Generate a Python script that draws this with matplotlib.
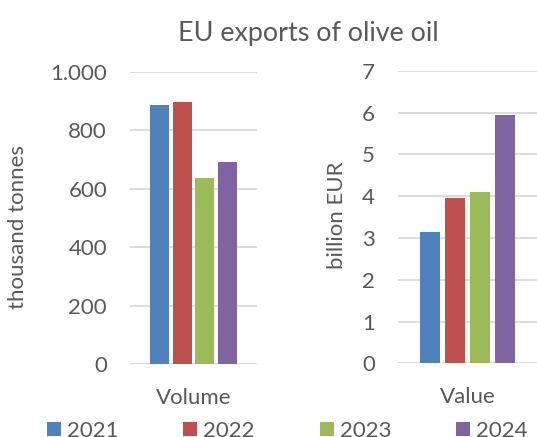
import matplotlib.pyplot as plt
from matplotlib.ticker import FuncFormatter

plt.rcParams['font.family'] = ['Lato', 'DejaVu Sans']

# olive oil exports by year
years = ['2021', '2022', '2023', '2024']
volume = [888, 898, 638, 692]      # thousand tonnes
value = [3.14, 3.96, 4.10, 5.94]   # billion EUR
colors = ['#4f81bd', '#c0504d', '#9bbb59', '#8064a2']

text_col = '#595959'
grid_col = '#d9d9d9'
fs = 16

fig = plt.figure(figsize=(5.37, 4.37), dpi=100)
ax1 = fig.add_axes([130/537, 73/437, 127/537, 292/437])
ax2 = fig.add_axes([398/537, 73.6/437, 139/537, 292.7/437])

offsets = [-0.27, -0.09, 0.09, 0.27]
width = 0.15


def style(ax, ymax, step, label, xlabel):
    ax.set_ylim(0, ymax)
    ax.set_xlim(-0.5, 0.5)
    ax.set_yticks([i * step for i in range(int(round(ymax / step)) + 1)])
    ax.yaxis.grid(True, color=grid_col, linewidth=1.3)
    ax.set_axisbelow(True)
    for s in ax.spines.values():
        s.set_visible(False)
    ax.tick_params(axis='y', length=0, pad=16.5, labelsize=fs, labelcolor=text_col)
    ax.set_xticks([0])
    ax.set_xticklabels([xlabel])
    ax.tick_params(axis='x', length=0, pad=17, labelsize=fs, labelcolor=text_col)
    ax.set_ylabel(label, fontsize=fs, color=text_col)


for i, yr in enumerate(years):
    ax1.bar(offsets[i], volume[i], width, color=colors[i], label=yr)
    ax2.bar(offsets[i], value[i], width, color=colors[i])

style(ax1, 1000, 200, 'thousand tonnes', 'Volume')
style(ax2, 7, 1, 'billion EUR', 'Value')
ax1.yaxis.set_major_formatter(FuncFormatter(lambda v, p: f'{int(v):,}'.replace(',', '.')))
ax1.yaxis.set_label_coords(-0.80, 0.47)
ax2.yaxis.set_label_coords(-0.367, 0.507)

fig.text(0.575, 0.923, 'EU exports of olive oil', ha='center', va='center',
         fontsize=19.4, color=text_col)

fig.legend(loc='lower center', bbox_to_anchor=(0.535, -0.055), ncol=4, frameon=False,
           fontsize=fs, labelcolor=text_col, handlelength=0.63, handleheight=0.63,
           handletextpad=0.27, columnspacing=2.92)

fig.savefig('out.png', dpi=100)
